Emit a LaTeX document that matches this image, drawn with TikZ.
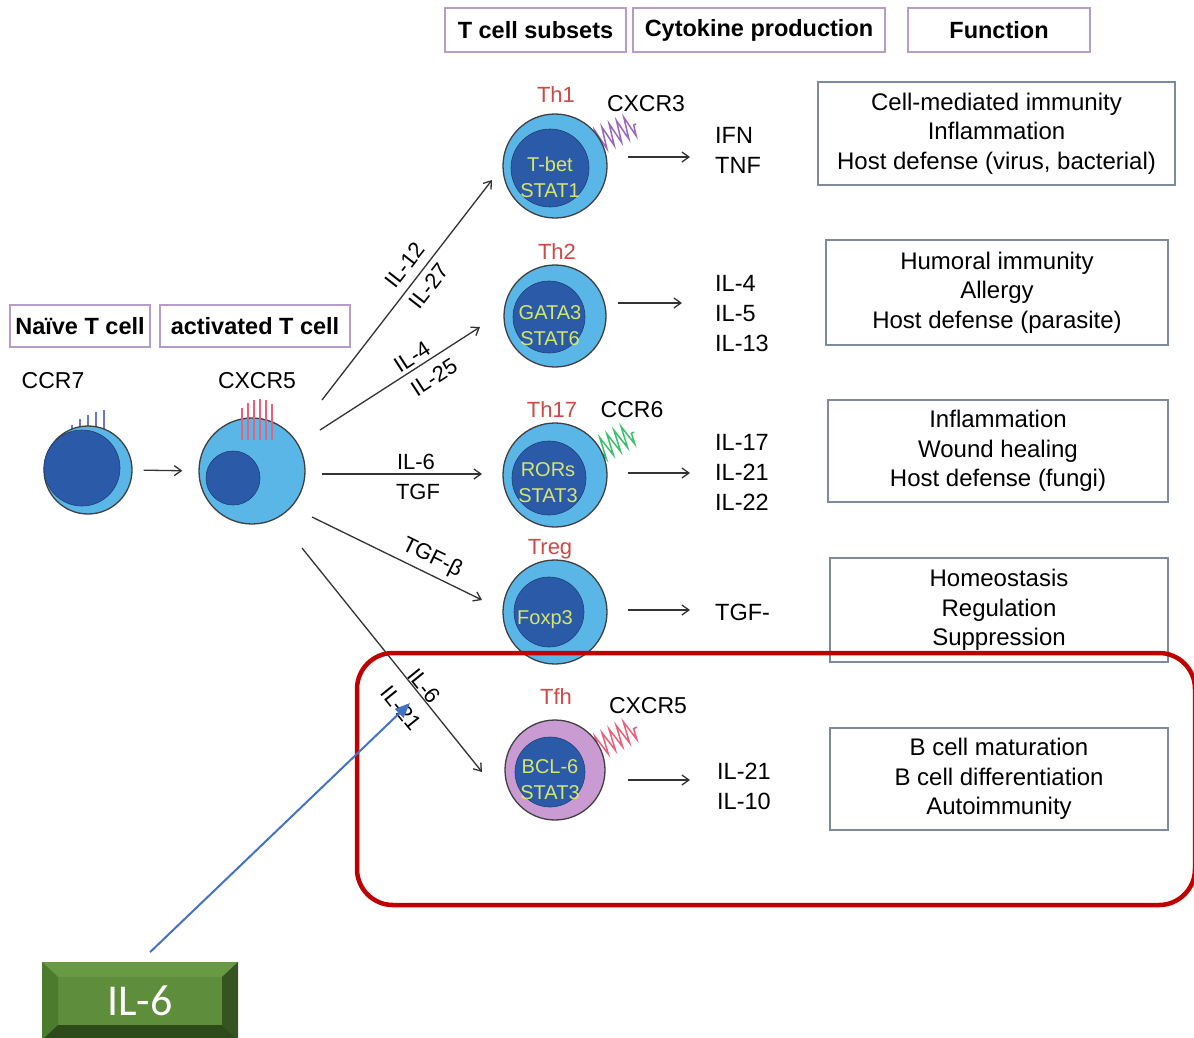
\documentclass[tikz,border=0pt]{standalone}
\usepackage{fontspec}
\setmainfont{Liberation Sans}
\newfontfamily\calibri{Carlito}
\usetikzlibrary{arrows.meta,decorations.pathmorphing}

\definecolor{cellblue}{HTML}{5BB6E8}
\definecolor{nucblue}{HTML}{2B5BA8}
\definecolor{tfhpink}{HTML}{C99BD2}
\definecolor{nuctext}{HTML}{D6E66A}
\definecolor{lblred}{HTML}{D04848}
\definecolor{hdrframe}{HTML}{B79BC9}
\definecolor{fnframe}{HTML}{7D8B9C}
\definecolor{focusred}{HTML}{C00000}
\definecolor{pointer}{HTML}{4472C4}
\definecolor{recblue}{HTML}{6A78C8}
\definecolor{recred}{HTML}{E8607A}
\definecolor{recpurple}{HTML}{9A68C0}
\definecolor{recgreen}{HTML}{3CC070}
\definecolor{bevface}{HTML}{5E8E3B}
\definecolor{bevtop}{HTML}{689A44}
\definecolor{bevleft}{HTML}{4B7B2C}
\definecolor{bevright}{HTML}{36541F}
\definecolor{bevbottom}{HTML}{2E4A1B}

\tikzset{
  membrane/.style={circle, draw=black!75, line width=1.3pt, fill=cellblue, inner sep=0pt, minimum size=#1},
  nucleus/.style={circle, fill=nucblue, draw=nucblue!70!black, line width=0.6pt, inner sep=0pt, minimum size=#1},
  nuclabel/.style={text=nuctext, font=\fontsize{20}{26}\selectfont, align=center, inner sep=0pt},
  subset/.style={text=lblred, font=\fontsize{22}{26}\selectfont, inner sep=0pt},
  marker/.style={font=\fontsize{23}{27}\selectfont, inner sep=0pt},
  cytokines/.style={font=\fontsize{23.5}{30}\selectfont, align=left, anchor=west, inner sep=0pt},
  cue/.style={font=\fontsize{22}{26}\selectfont, inner sep=1pt},
  hdr/.style={draw=hdrframe, line width=1.8pt, fill=white, font=\bfseries\fontsize{23.5}{28}\selectfont, inner sep=0pt},
  fnbox/.style={draw=fnframe, line width=1.1pt, fill=white, font=\fontsize{24}{29.5}\selectfont, align=center, inner sep=0pt},
  flow/.style={line width=1.3pt, black!80, -{Straight Barb[length=7pt,width=10pt]}},
  spring/.style={decorate, decoration={zigzag, segment length=8pt, amplitude=11pt}, line width=1.5pt}
}

\begin{document}
\begin{tikzpicture}[x=1pt, y=-1pt]
\useasboundingbox (0,0) rectangle (1194,1037);
\fill[white] (0,0) rectangle (1194,1037);

% column headers
\node[hdr, minimum width=181pt, minimum height=44pt] (hsub) at (535.5,30) {T cell subsets};
\node[hdr, minimum width=252pt, minimum height=44pt] (hcyt) at (759,30) {Cytokine production};
\node[hdr, minimum width=182pt, minimum height=44pt] (hfun) at (999,30) {Function};
\node[hdr, minimum width=140pt, minimum height=42pt] (hnaive) at (80,326) {Naïve T cell};
\node[hdr, minimum width=190pt, minimum height=42pt] (hact) at (255,326) {activated T cell};

% naive T cell
\foreach \x/\t in {72/425, 80/419, 88/415, 96/412, 104/410}
  \draw[recblue, line width=1.6pt] (\x,440) -- (\x,\t);
\node[membrane=88pt] (naive) at (88,470) {};
\node[nucleus=76pt] (naiven) at (82,468) {};
\node[marker] (ccr7) at (53,381) {CCR7};

% activated T cell
\node[membrane=106pt] (act) at (252,471) {};
\node[nucleus=54pt] (actn) at (233,478) {};
\foreach \x/\t in {242/408, 248/403, 254/400, 260/399, 266/400, 272/404}
  \draw[recred, line width=1.4pt] (\x,440) -- (\x,\t);
\node[marker] (cxcr5a) at (257,381) {CXCR5};

\draw[flow, shorten <=11pt, shorten >=16pt] (naive.east) -- (act.west);

% Th1
\draw[spring, recpurple] (597,141) -- (636,124);
\node[membrane=104pt] (th1) at (555,166) {};
\node[nucleus=78pt] (th1n) at (550,168) {};
\node[nuclabel] (th1t) at (550,177) {T-bet\\STAT1};
\node[subset] (th1l) at (556,95) {Th1};
\node[marker] (cxcr3) at (646,104) {CXCR3};

% Th2
\node[membrane=102pt] (th2) at (555,316) {};
\node[nucleus=72pt] (th2n) at (549,317) {};
\node[nuclabel] (th2t) at (550,326) {GATA3\\STAT6};
\node[subset] (th2l) at (557,252) {Th2};

% Th17
\draw[spring, recgreen] (596,452) -- (634,432);
\node[membrane=104pt] (th17) at (555,475) {};
\node[nucleus=74pt] (th17n) at (549,478) {};
\node[nuclabel] (th17t) at (548,483) {RORs\\STAT3};
\node[subset] (th17l) at (552,410) {Th17};
\node[marker] (ccr6) at (632,410) {CCR6};

% Treg
\node[membrane=104pt] (treg) at (555,612) {};
\node[nucleus=70pt] (tregn) at (549,612) {};
\node[nuclabel] (tregt) at (545,620) {Foxp3};
\node[subset] (tregl) at (550,549) {Treg};

% Tfh
\draw[spring, recred] (598,747) -- (637,727);
\node[membrane=100pt, fill=tfhpink] (tfh) at (555,770) {};
\node[nucleus=70pt] (tfhn) at (550,772) {};
\node[nuclabel] (tfht) at (550,780) {BCL-6\\STAT3};
\node[subset] (tfhl) at (556,697) {Tfh};
\node[marker] (cxcr5t) at (648,706) {CXCR5};

% differentiation branches
\coordinate (b1s) at (322,400); \coordinate (b1e) at (492,180);
\coordinate (b2s) at (320,430); \coordinate (b2e) at (480,327);
\coordinate (b3s) at (322,474); \coordinate (b3e) at (482,474);
\coordinate (b4s) at (312,517); \coordinate (b4e) at (482,600);
\coordinate (b5s) at (302,548); \coordinate (b5e) at (482,772);
\foreach \b in {1,...,5} \draw[flow] (b\b s) -- (b\b e);

\node[cue, rotate=52] (c12) at (405,265) {IL-12};
\node[cue, rotate=52] (c27) at (429,286) {IL-27};
\node[cue, rotate=33] (c4) at (412,357) {IL-4};
\node[cue, rotate=33] (c25) at (434,377) {IL-25};
\node[cue] (c6a) at (416,462) {IL-6};
\node[cue] (ctgf) at (418,492) {TGF};
\node[cue, rotate=-26] (ctgfb) at (432,558) {TGF-β};
\node[cue, rotate=-51] (c6b) at (424,686) {IL-6};
\node[cue, rotate=-51] (c21) at (401,708) {IL-21};

% cytokine output
\node[cytokines] (th1c) at (715,150) {IFN\\TNF};
\node[cytokines] (th2c) at (715,314) {IL-4\\IL-5\\IL-13};
\node[cytokines] (th17c) at (715,472) {IL-17\\IL-21\\IL-22};
\node[cytokines] (tregc) at (715,612) {TGF-};
\node[cytokines] (tfhc) at (717,786) {IL-21\\IL-10};

\coordinate (o1) at (628,157); \coordinate (e1) at (690,157);
\coordinate (o2) at (618,303); \coordinate (e2) at (682,303);
\coordinate (o3) at (628,473); \coordinate (e3) at (690,473);
\coordinate (o4) at (628,610); \coordinate (e4) at (690,610);
\coordinate (o5) at (628,780); \coordinate (e5) at (690,780);
\foreach \b in {1,...,5} \draw[flow] (o\b) -- (e\b);

% functions
\node[fnbox, minimum width=357pt, minimum height=103pt] (f1) at (996.5,133.5) {Cell-mediated immunity\\Inflammation\\Host defense (virus, bacterial)};
\node[fnbox, minimum width=342pt, minimum height=105pt] (f2) at (997,292.5) {Humoral immunity\\Allergy\\Host defense (parasite)};
\node[fnbox, minimum width=340pt, minimum height=102pt] (f3) at (998,451) {Inflammation\\Wound healing\\Host defense (fungi)};
\node[fnbox, minimum width=338pt, minimum height=104pt] (f4) at (999,610) {Homeostasis\\Regulation\\Suppression};
\node[fnbox, minimum width=338pt, minimum height=102pt] (f5) at (999,779) {B cell maturation\\B cell differentiation\\Autoimmunity};

% Tfh highlight
\node[draw=focusred, line width=4.5pt, rounded corners=36pt, minimum width=838pt, minimum height=252pt, inner sep=0pt] (focus) at (776,779) {};

% IL-6 tag with bevelled frame
\node[fill=bevface, minimum width=196pt, minimum height=78pt, inner sep=0pt] (il6) at (140,1001) {};
\fill[bevtop] (42,962) -- (238,962) -- (222,977) -- (58,977) -- cycle;
\fill[bevleft] (42,962) -- (58,977) -- (58,1025) -- (42,1040) -- cycle;
\fill[bevright] (238,962) -- (222,977) -- (222,1025) -- (238,1040) -- cycle;
\fill[bevbottom] (42,1040) -- (58,1025) -- (222,1025) -- (238,1040) -- cycle;
\node[text=white, font=\calibri\fontsize{44}{50}\selectfont, inner sep=0pt] (il6t) at (140,1001) {IL-6};
\coordinate (tip) at (410,703);
\draw[pointer, line width=2pt, -{Triangle[length=15pt,width=12pt]}, shorten <=14pt] (il6.north) -- (tip);
\end{tikzpicture}
\end{document}
